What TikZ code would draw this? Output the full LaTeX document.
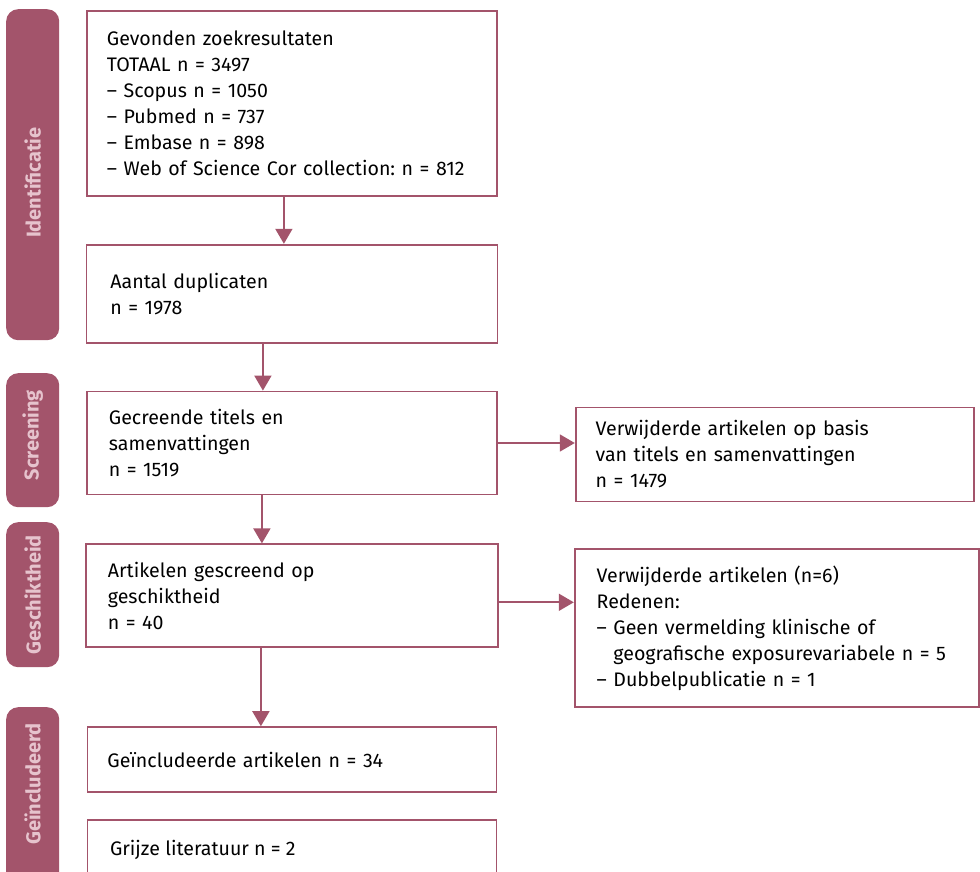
\documentclass[tikz,border=0pt]{standalone}
\usepackage{fontspec}
\setmainfont{Fira Sans}
\usetikzlibrary{positioning, arrows.meta}
\definecolor{prismared}{HTML}{A3546B}
\definecolor{prismalight}{HTML}{E6C3CD}
\frenchspacing

\begin{document}
\begin{tikzpicture}[x=1pt, y=1pt,
  font=\fontsize{19.6}{26}\selectfont,
  box/.style={draw=prismared, line width=1.8pt, align=left, inner xsep=22pt, inner ysep=0pt},
  tab/.style={fill=prismared, rounded corners=12pt, minimum width=53pt, anchor=north west},
  tablabel/.style={rotate=90, text=prismalight, font=\fontsize{20}{24}\selectfont\bfseries},
  arr/.style={-{Triangle[width=17pt, length=15pt]}, draw=prismared, line width=1.8pt}]

\useasboundingbox (0,0) rectangle (980,-872);
\clip (0,0) rectangle (980,-872);

% Phase tabs
\node[tab, minimum height=331pt] (tabid) at (6,-9) {};
\node[tablabel] at ([yshift=-8pt]tabid.center) {Identificatie};
\node[tab, minimum height=134pt] (tabscr) at (6,-373) {};
\node[tablabel] at ([yshift=5pt]tabscr.center) {Screening};
\node[tab, minimum height=145pt] (tabel) at (6,-522) {};
\node[tablabel] at (tabel.center) {Geschiktheid};
\node[tab, minimum height=200pt] (tabinc) at (6,-707) {};
\node[tablabel] at (32.5,-784) {Geïncludeerd};

% Main column
\node[box, anchor=north west, text width=370pt, inner xsep=20pt, minimum height=185pt] (found) at (86,-10)
  {Gevonden zoekresultaten\\TOTAAL n = 3497\\– Scopus n = 1050\\– Pubmed n = 737\\– Embase n = 898\\– Web of Science Cor collection: n = 812};
\node[box, below=47pt of found, text width=363pt, inner xsep=24pt, minimum height=98pt] (dupl)
  {Aantal duplicaten\\n = 1978};
\node[box, below=47pt of dupl, text width=366pt, minimum height=103pt] (screened)
  {Gecreende titels en\\samenvattingen\\n = 1519};
\node[box, below=48pt of screened, text width=368pt, minimum height=103pt] (eligible)
  {Artikelen gescreend op\\geschiktheid\\n = 40};
\node[box, below=78pt of eligible, text width=369pt, inner xsep=20pt, minimum height=65pt] (included)
  {Geïncludeerde artikelen n = 34};
\node[box, below=26pt of included, anchor=north west, text width=369pt, inner xsep=20pt, minimum height=80pt] (grey)
  at (included.south west) {};
\node[anchor=west] at ([xshift=20pt, yshift=-31pt]grey.north west) {Grijze literatuur n = 2};

% Excluded records
\node[box, right=77pt of screened.north east, anchor=north west, yshift=-16pt, text width=358pt, inner xsep=20pt, minimum height=94pt] (remscreen)
  {Verwijderde artikelen op basis\\van titels en samenvattingen\\n = 1479};
\node[box, right=75pt of eligible.north east, anchor=north west, yshift=-5pt, text width=360pt, minimum height=158pt] (remelig)
  {Verwijderde artikelen (n=6)\\Redenen:\\– Geen vermelding klinische of\\\phantom{– }geografische exposurevariabele n = 5\\– Dubbelpublicatie n = 1};

% Arrows
\draw[arr] ([xshift=-8pt]found.south) -- ([xshift=-8pt]found.south |- dupl.north);
\draw[arr] ([xshift=-29pt]dupl.south) -- ([xshift=-29pt]dupl.south |- screened.north);
\draw[arr] ([xshift=-30pt]screened.south) -- ([xshift=-30pt]screened.south |- eligible.north);
\draw[arr] ([xshift=-31pt]eligible.south) -- ([xshift=-31pt]eligible.south |- included.north);
\draw[arr] (screened.east) -- (screened.east -| remscreen.west);
\draw[arr] ([yshift=-6.5pt]eligible.east) -- ([yshift=-6.5pt]eligible.east -| remelig.west);

\end{tikzpicture}
\end{document}
